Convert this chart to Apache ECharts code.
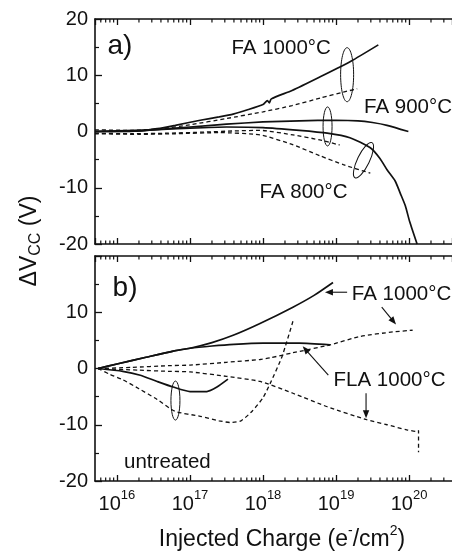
<!DOCTYPE html>
<html>
<head>
<meta charset="utf-8">
<script src="https://cdn.jsdelivr.net/npm/echarts@6/dist/echarts.min.js"></script>
<style>
  html, body { margin: 0; padding: 0; background: #fff; }
  #main { width: 452px; height: 559px; }
</style>
</head>
<body>
<div id="main"></div>
<script>
// ---- Panel (a): furnace anneals, injected charge (e-/cm2) vs flat-band shift (V)
const fa1000SolidQ = [5e15, 1e16, 2e16, 3.55e16, 6.3e16, 1.38e17, 2.5e17, 3.9e17, 6.3e17, 1e18, 1.15e18, 1.22e18, 1.3e18, 2.5e18, 6e18, 1.6e19, 3.8e19];
const fa1000SolidV = [0, 0, 0.1, 0.5, 1.1, 2.0, 2.6, 3.1, 3.9, 4.8, 5.5, 5.1, 5.8, 7.3, 9.7, 12.5, 15.4];
const fa1000DashQ = [5e15, 1.58e16, 4e16, 1e17, 3.16e17, 1e18, 2.5e18, 6.3e18, 1.26e19, 1.95e19];
const fa1000DashV = [0.3, 0.2, 0.5, 1.2, 2.3, 3.5, 4.6, 6.0, 7.0, 7.6];
const fa900SolidQ = [5e15, 2e16, 4e16, 1e17, 3.16e17, 1e18, 3.16e18, 1e19, 2e19, 3.16e19, 5e19, 9.8e19];
const fa900SolidV = [0, 0.1, 0.4, 0.8, 1.3, 1.7, 1.9, 2.0, 1.9, 1.6, 1.1, 0.0];
const fa900DashQ = [5e15, 1.58e16, 5e16, 1.58e17, 4e17, 9.1e17, 2.57e18, 6e18, 1.12e19];
const fa900DashV = [-0.3, -0.4, -0.3, -0.1, 0.1, 0.2, -0.6, -1.5, -2.4];
const fa800SolidQ = [5e15, 3.16e16, 1e17, 3.16e17, 1e18, 3.16e18, 7.6e18, 1.55e19, 2.95e19, 4e19, 5e19, 6.46e19, 7.6e19, 8.9e19, 1.02e20, 1.29e20];
const fa800SolidV = [0, 0.3, 0.6, 0.8, 0.7, 0.2, -0.3, -1.1, -2.9, -4.8, -6.8, -8.8, -11.0, -13.2, -16.0, -20];
const fa800DashQ = [5e15, 2e16, 6.3e16, 2.5e17, 9.1e17, 2.5e18, 6e18, 1.26e19, 2.95e19];
const fa800DashV = [-0.4, -0.5, -0.4, -0.2, -0.6, -2.3, -4.3, -5.9, -7.4];

// ---- Panel (b): FA vs FLA at 1000 °C and untreated samples
const bFa1000SolidQ = [5.5e15, 1e16, 2.5e16, 5.9e16, 1e17, 2e17, 3.9e17, 9.1e17, 2.57e18, 5e18, 9.1e18];
const bFa1000SolidV = [0, 0.8, 2.0, 3.1, 3.6, 4.6, 5.9, 8.0, 10.9, 13.0, 15.3];
const bFla1000SolidQ = [5.5e15, 1e16, 2.5e16, 5.9e16, 1e17, 2e17, 4e17, 1e18, 3.16e18, 8.3e18];
const bFla1000SolidV = [0, 0.8, 2.0, 3.1, 3.6, 4.0, 4.3, 4.5, 4.5, 4.2];
const bFa1000DashQ = [5.5e15, 1.58e16, 5e16, 1e17, 3.16e17, 9.1e17, 1.26e18, 2.57e18, 8.3e18, 2.14e19, 6e19, 1.12e20];
const bFa1000DashV = [0, 0.2, 0.5, 0.6, 1.1, 1.6, 1.9, 2.8, 4.2, 5.7, 6.5, 6.8];
const bFla1000DashQ = [5.5e15, 2e16, 5e16, 1e17, 3.16e17, 9.1e17, 2.57e18, 7.6e18, 2.63e19, 5e19, 9.3e19, 1.29e20, 1.35e20, 1.35e20];
const bFla1000DashV = [0, -0.3, -0.5, -0.6, -1.4, -2.3, -4.4, -6.8, -9.1, -10.0, -10.9, -11.2, -11.0, -14.9];
const untreatedSolidQ = [5.5e15, 1.2e16, 2.09e16, 3.55e16, 5.9e16, 1e17, 1.7e17, 2.34e17, 3.31e17];
const untreatedSolidV = [0, -0.5, -1.2, -2.3, -3.3, -4.1, -4.1, -3.3, -1.9];
const untreatedDashQ = [5.5e15, 7.9e15, 1.2e16, 2e16, 3.55e16, 6.2e16, 1.38e17, 2.5e17, 3.55e17, 5e17, 7.2e17, 1e18, 1.26e18, 1.82e18, 2.57e18];
const untreatedDashV = [0, -1.0, -2.0, -3.6, -5.5, -7.6, -8.5, -9.3, -9.6, -9.3, -7.5, -5.2, -2.6, 2.1, 8.4];

// ---- Axes
const xMin = 5e15, xMax = 3.88e20;
const yTicks = [-20, -10, 0, 10, 20];
const minorMantissas = [2, 3, 4, 5, 6, 7, 8, 9];
const decades = [15, 16, 17, 18, 19, 20];

const FONT = "'Liberation Sans', Arial, Helvetica, sans-serif";
const INK = '#111';

const minorTickValues = [];
decades.forEach(d => minorMantissas.forEach(m => {
  const v = m * Math.pow(10, d);
  if (v > xMin && v < xMax) minorTickValues.push([v, 0]);
}));

const zip = (q, v) => q.map((x, i) => [x, v[i]]);

function lineSeries(q, v, grid, dashed) {
  return {
    type: 'line',
    xAxisIndex: grid === 0 ? 0 : 2,
    yAxisIndex: grid,
    data: zip(q, v),
    showSymbol: false,
    symbol: 'none',
    smooth: 0.2,
    silent: true,
    lineStyle: dashed
      ? { color: INK, width: 1.3, type: [4, 3] }
      : { color: INK, width: 1.7 },
    z: 3
  };
}

function minorTickSeries(grid) {
  return {
    type: 'custom',
    xAxisIndex: grid === 0 ? 0 : 2,
    yAxisIndex: grid,
    data: minorTickValues,
    silent: true,
    clip: false,
    encode: { x: 0, y: 1 },
    renderItem: function (params, api) {
      const v = api.value(0);
      const top = api.coord([v, yTicks[yTicks.length - 1]]);
      const bot = api.coord([v, yTicks[0]]);
      const st = { stroke: INK, lineWidth: 1.2 };
      return {
        type: 'group',
        children: [
          { type: 'line', shape: { x1: top[0], y1: top[1], x2: top[0], y2: top[1] + 3.5 }, style: st },
          { type: 'line', shape: { x1: bot[0], y1: bot[1], x2: bot[0], y2: bot[1] - 3.5 }, style: st }
        ]
      };
    }
  };
}

function xAxis(grid, position, showLabels) {
  return {
    type: 'log',
    logBase: 10,
    gridIndex: grid,
    position: position,
    min: xMin,
    max: xMax,
    splitLine: { show: false },
    axisLine: { show: true, onZero: false, lineStyle: { color: INK, width: 1.6 } },
    axisTick: { show: true, inside: true, length: 6, lineStyle: { color: INK, width: 1.3 } },
    axisLabel: {
      show: showLabels,
      margin: 8,
      showMinLabel: false,
      showMaxLabel: false,
      formatter: function (val) {
        const e = Math.log10(val);
        const r = Math.round(e);
        if (Math.abs(e - r) > 0.01) return '';
        return '{b|10}{s|' + r + '}';
      },
      rich: {
        b: { fontFamily: FONT, fontSize: 20, color: INK, lineHeight: 30 },
        s: { fontFamily: FONT, fontSize: 13, color: INK, verticalAlign: 'top', lineHeight: 13 }
      }
    }
  };
}

function yAxis(grid, showMax) {
  return {
    type: 'value',
    gridIndex: grid,
    min: yTicks[0],
    max: yTicks[yTicks.length - 1],
    interval: 10,
    splitLine: { show: false },
    axisLine: { show: true, onZero: false, lineStyle: { color: INK, width: 1.6 } },
    axisTick: { show: true, inside: true, length: 7, lineStyle: { color: INK, width: 1.3 } },
    minorTick: { show: true, splitNumber: 2, length: 4, lineStyle: { color: INK, width: 1.2 } },
    axisLabel: {
      margin: 7,
      showMaxLabel: showMax,
      fontFamily: FONT,
      fontSize: 20,
      color: INK
    }
  };
}

const option = {
  animation: false,
  backgroundColor: '#fff',
  grid: [
    { left: 95, top: 19, right: 0, height: 225, containLabel: false },
    { left: 95, top: 256, right: 0, height: 225, containLabel: false }
  ],
  xAxis: [
    xAxis(0, 'bottom', false),
    xAxis(0, 'top', false),
    xAxis(1, 'bottom', true),
    xAxis(1, 'top', false)
  ],
  yAxis: [yAxis(0, true), yAxis(1, false)],
  series: [
    lineSeries(fa1000SolidQ, fa1000SolidV, 0, false),
    lineSeries(fa1000DashQ, fa1000DashV, 0, true),
    lineSeries(fa900SolidQ, fa900SolidV, 0, false),
    lineSeries(fa900DashQ, fa900DashV, 0, true),
    lineSeries(fa800SolidQ, fa800SolidV, 0, false),
    lineSeries(fa800DashQ, fa800DashV, 0, true),
    lineSeries(bFa1000SolidQ, bFa1000SolidV, 1, false),
    lineSeries(bFla1000SolidQ, bFla1000SolidV, 1, false),
    lineSeries(bFa1000DashQ, bFa1000DashV, 1, true),
    lineSeries(bFla1000DashQ, bFla1000DashV, 1, true),
    lineSeries(untreatedSolidQ, untreatedSolidV, 1, false),
    lineSeries(untreatedDashQ, untreatedDashV, 1, true),
    minorTickSeries(0),
    minorTickSeries(1)
  ]
};

const chart = echarts.init(document.getElementById('main'), null, { renderer: 'canvas' });
chart.setOption(option);

// ---- Annotations, anchored in data space of each panel
const toPx = (grid, pt) => chart.convertToPixel({ gridIndex: grid }, pt);

const texts = [
  { grid: 0, at: [1.1e16, 15.1], text: 'a)', size: 28 },
  { grid: 0, at: [1.77e18, 14.7], text: 'FA 1000°C', size: 20.5 },
  { grid: 0, at: [9.7e19, 4.3], text: 'FA 900°C', size: 20.5 },
  { grid: 0, at: [3.59e18, -10.8], text: 'FA 800°C', size: 20.5 },
  { grid: 1, at: [1.29e16, 14.2], text: 'b)', size: 28 },
  { grid: 1, at: [4.9e16, -16.6], text: 'untreated', size: 20.5 },
  { grid: 1, at: [7.9e19, 13.2], text: 'FA 1000°C', size: 20.5 },
  { grid: 1, at: [5.41e19, -2.16], text: 'FLA 1000°C', size: 20.5 }
];

const ellipses = [
  { grid: 0, at: [1.42e19, 10.1], rx: 6.5, ry: 27, rot: 0 },
  { grid: 0, at: [7.66e18, 0.9], rx: 4.5, ry: 19.5, rot: 0 },
  { grid: 0, at: [2.38e19, -5.1], rx: 6, ry: 19.5, rot: -0.45 },
  { grid: 1, at: [6.32e16, -5.7], rx: 4.5, ry: 19.5, rot: 0 }
];

const arrows = [
  { grid: 1, from: [1.42e19, 13.56], to: [7.06e18, 13.56] },
  { grid: 1, from: [4.23e19, 10.9], to: [6.64e19, 7.84] },
  { grid: 1, from: [7.85e18, -1.19], to: [3.5e18, 3.95] },
  { grid: 1, from: [2.58e19, -4.42], to: [2.58e19, -8.85] }
];

const graphics = [];

texts.forEach(t => {
  const p = toPx(t.grid, t.at);
  graphics.push({
    type: 'text', x: p[0], y: p[1], z: 10,
    style: { text: t.text, fontFamily: FONT, fontSize: t.size, fill: INK, align: 'center', verticalAlign: 'middle' }
  });
});

ellipses.forEach(e => {
  const p = toPx(e.grid, e.at);
  graphics.push({
    type: 'ellipse', x: p[0], y: p[1], rotation: e.rot, z: 10,
    shape: { cx: 0, cy: 0, rx: e.rx, ry: e.ry },
    style: { fill: 'none', stroke: INK, lineWidth: 1 }
  });
});

arrows.forEach(a => {
  const p0 = toPx(a.grid, a.from);
  const p1 = toPx(a.grid, a.to);
  const dx = p1[0] - p0[0], dy = p1[1] - p0[1];
  const len = Math.hypot(dx, dy);
  const ux = dx / len, uy = dy / len;
  const nx = -uy, ny = ux;
  const head = 8, half = 3.2;
  const bx = p1[0] - ux * head, by = p1[1] - uy * head;
  graphics.push({
    type: 'line', z: 10,
    shape: { x1: p0[0], y1: p0[1], x2: bx + ux * 2, y2: by + uy * 2 },
    style: { stroke: INK, lineWidth: 1.1 }
  });
  graphics.push({
    type: 'polygon', z: 10,
    shape: { points: [[p1[0], p1[1]], [bx + nx * half, by + ny * half], [bx - nx * half, by - ny * half]] },
    style: { fill: INK, stroke: 'none' }
  });
});

// Axis titles
graphics.push({
  type: 'text', x: 30, y: 241, rotation: Math.PI / 2, z: 10,
  style: {
    text: '{a|ΔV}{s|CC}{a| (V)}',
    align: 'center', verticalAlign: 'middle',
    rich: {
      a: { fontFamily: FONT, fontSize: 23, fill: INK, lineHeight: 28 },
      s: { fontFamily: FONT, fontSize: 16, fill: INK, verticalAlign: 'bottom', lineHeight: 14 }
    }
  }
});
graphics.push({
  type: 'text', x: 282, y: 540, z: 10,
  style: {
    text: '{a|Injected Charge (e}{p|-}{a|/cm}{p|2}{a|)}',
    align: 'center', verticalAlign: 'middle',
    rich: {
      a: { fontFamily: FONT, fontSize: 23, fill: INK, lineHeight: 32 },
      p: { fontFamily: FONT, fontSize: 14, fill: INK, verticalAlign: 'top', lineHeight: 14 }
    }
  }
});

chart.setOption({ graphic: graphics });
</script>
</body>
</html>
